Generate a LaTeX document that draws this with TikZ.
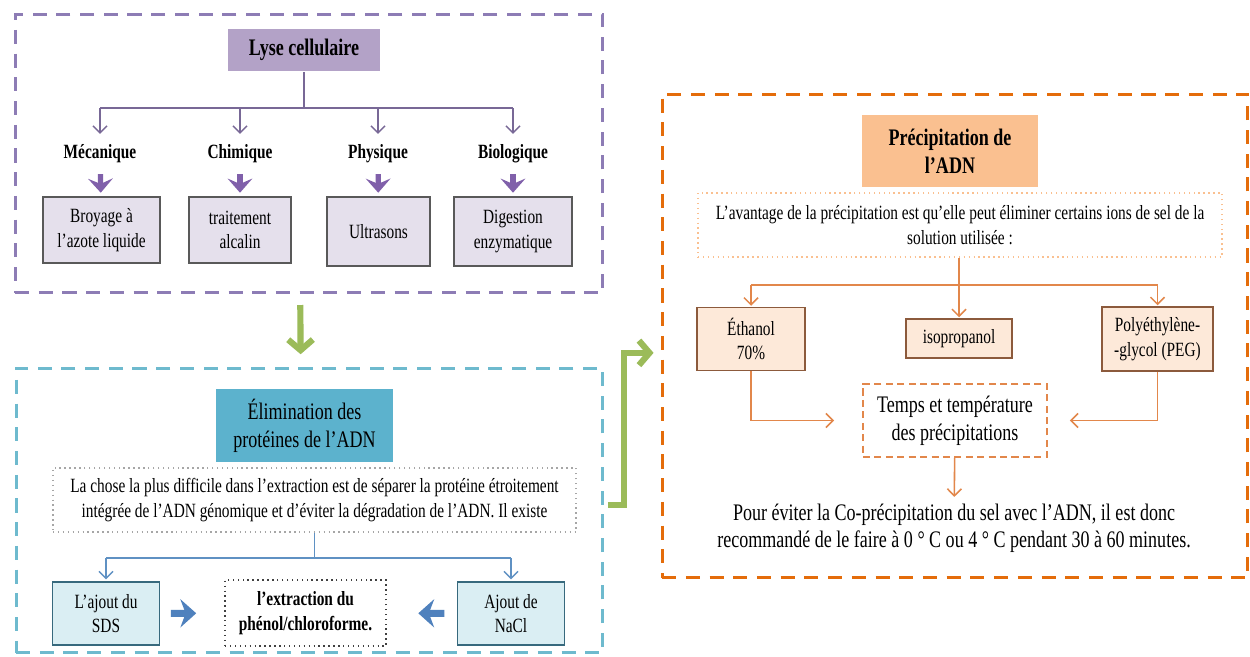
\documentclass[tikz,border=0pt]{standalone}
\usepackage{fontspec}
\setmainfont{Liberation Serif}[FakeStretch=0.76]
\usetikzlibrary{arrows.meta}

\definecolor{lysedash}{RGB}{141,124,181}
\definecolor{lysefill}{RGB}{179,162,199}
\definecolor{methfill}{RGB}{229,224,236}
\definecolor{methline}{RGB}{120,104,150}
\definecolor{chevcol}{RGB}{128,96,170}
\definecolor{elimdash}{RGB}{110,186,206}
\definecolor{elimfill}{RGB}{92,178,205}
\definecolor{sdsfill}{RGB}{218,238,243}
\definecolor{sdsline}{RGB}{55,105,125}
\definecolor{elimline}{RGB}{95,145,195}
\definecolor{bluearrow}{RGB}{79,129,189}
\definecolor{greenarrow}{RGB}{155,187,89}
\definecolor{precdash}{RGB}{228,108,10}
\definecolor{precfill}{RGB}{250,192,144}
\definecolor{agentfill}{RGB}{253,233,217}
\definecolor{agentline}{RGB}{140,90,60}
\definecolor{precline}{RGB}{226,135,75}

\newcommand{\titlesize}{\fontsize{13.5}{16}\selectfont}
\newcommand{\boxsize}{\fontsize{11.5}{14}\selectfont}
\newcommand{\advicesize}{\fontsize{13.5}{15.3}\selectfont}

\begin{document}
\begin{tikzpicture}[x=0.02cm, y=-0.02cm, font=\boxsize,
  >={Straight Barb[length=4pt,width=8pt]},
  panel/.style={draw, line width=1.7pt, dash pattern=on 8pt off 5.5pt},
  box/.style={align=center, inner sep=2pt},
  lysehead/.style={box, fill=lysefill, font=\titlesize\bfseries},
  methodname/.style={box, inner sep=1pt, font=\boxsize\bfseries},
  method/.style={box, draw=black!65, line width=0.9pt, fill=methfill},
  lyseline/.style={color=methline, line width=0.8pt},
  chev/.style={color=chevcol, line width=3pt, -{Stealth[length=8pt,width=14pt,inset=3pt]}, shorten <=5pt, shorten >=2pt},
  elimhead/.style={box, fill=elimfill, font=\titlesize},
  note/.style={box, dotted, line width=0.8pt},
  addbox/.style={box, draw=sdsline, line width=1pt, fill=sdsfill},
  elimln/.style={color=elimline, line width=0.8pt},
  bluearr/.style={color=bluearrow, line width=4pt, -{Stealth[length=9pt,width=16pt,inset=3pt]}},
  greenarr/.style={color=greenarrow, line width=3.5pt, -{Straight Barb[length=6pt,width=14pt]}},
  prechead/.style={box, fill=precfill, font=\titlesize\bfseries},
  agent/.style={box, draw=agentline, line width=1pt, fill=agentfill},
  precln/.style={color=precline, line width=0.9pt}]

\path[use as bounding box, fill=white] (0,0) rectangle (1250,656);

% panels
\node[panel, draw=lysedash, minimum width=11.76cm, minimum height=5.58cm] (lysepanel) at (309,153.5) {};
\node[panel, draw=elimdash, minimum width=11.74cm, minimum height=5.7cm] (elimpanel) at (309.5,510.5) {};
\node[panel, draw=precdash, minimum width=11.72cm, minimum height=9.68cm] (precpanel) at (955,336) {};

% lyse cellulaire
\node[lysehead, minimum width=3.06cm, minimum height=0.86cm] (lyse) at (304,50) {Lyse cellulaire};

\node[methodname] (meca) at (100,154) {Mécanique};
\node[methodname] (chim) at (240,154) {Chimique};
\node[methodname] (phys) at (378,154) {Physique};
\node[methodname] (bio) at (513,154) {Biologique};

\node[method, minimum width=2.34cm, minimum height=1.32cm] (broy) at (101.5,230) {Broyage à\\l'azote liquide};
\node[method, minimum width=2.04cm, minimum height=1.32cm] (trait) at (240,230) {traitement\\alcalin};
\node[method, minimum width=2.06cm, minimum height=1.38cm] (ultra) at (378.5,231.5) {Ultrasons};
\node[method, minimum width=2.36cm, minimum height=1.38cm] (dig) at (513,231.5) {Digestion\\enzymatique};

\coordinate (lysejoin) at (306,108);
\draw[lyseline] (lyse.south) -- (lyse.south |- lysejoin)
  (meca |- lysejoin) -- (bio |- lysejoin);
\path[lyseline, ->, shorten >=5pt]
  (meca |- lysejoin) edge (meca)
  (chim |- lysejoin) edge (chim)
  (phys |- lysejoin) edge (phys)
  (bio |- lysejoin) edge (bio);

\path[chev]
  (meca) edge (broy)
  (chim) edge (trait)
  (phys) edge (ultra)
  (bio) edge (dig);

% elimination des proteines
\node[elimhead, minimum width=3.54cm, minimum height=1.46cm] (elim) at (304.5,425.5) {Élimination des\\protéines de l'ADN};
\node[note, draw=black!35, minimum width=10.46cm, minimum height=1.28cm] (elimtxt) at (314.5,500)
  {La chose la plus difficile dans l'extraction est de séparer la protéine étroitement\\intégrée de l'ADN génomique et d'éviter la dégradation de l'ADN. Il existe};

\node[addbox, minimum width=2.14cm, minimum height=1.26cm] (sds) at (106,613.5) {L'ajout du\\SDS};
\node[note, draw=black!75, font=\boxsize\bfseries, minimum width=3.22cm, minimum height=1.32cm] (extr) at (305.5,613) {l'extraction du\\phénol/chloroforme.};
\node[addbox, minimum width=2.14cm, minimum height=1.26cm] (nacl) at (511,613.5) {Ajout de\\NaCl};

\coordinate (elimjoin) at (315,558);
\draw[elimln] (elimtxt.south) -- (elimtxt.south |- elimjoin)
  (sds |- elimjoin) -- (nacl |- elimjoin);
\path[elimln, ->, shorten >=1pt]
  (sds |- elimjoin) edge (sds)
  (nacl |- elimjoin) edge (nacl);

\path[bluearr]
  (sds) edge[shorten <=6pt, shorten >=16pt] (extr)
  (nacl) edge[shorten <=7pt, shorten >=18pt] (extr);

% green arrows between panels
\path[greenarr] ([xshift=-5pt]lysepanel.south) edge[shorten <=6pt, shorten >=7pt] ([xshift=-5pt]elimpanel.north);
\draw[greenarr] ([xshift=2pt,yshift=3pt]elimpanel.east) -- ++(16,0) |- ([xshift=-4pt,yshift=-9.6pt]precpanel.west);

% precipitation de l'ADN
\node[prechead, minimum width=3.52cm, minimum height=1.44cm] (prec) at (950,151) {Précipitation de\\l'ADN};
\node[note, draw=precfill, minimum width=10.48cm, minimum height=1.28cm] (prectxt) at (960,225)
  {L'avantage de la précipitation est qu'elle peut éliminer certains ions de sel de la\\solution utilisée :};

\node[agent, minimum width=2.16cm, minimum height=1.26cm] (etha) at (751,339) {Éthanol\\70\%};
\node[agent, minimum width=2.12cm, minimum height=0.78cm] (iso) at (959,338.5) {isopropanol};
\node[agent, minimum width=2.22cm, minimum height=1.28cm] (peg) at (1157.5,339) {Polyéthylène-\\-glycol (PEG)};

\node[box, draw=precline, dash pattern=on 4pt off 2.5pt, line width=1pt, font=\titlesize,
  minimum width=3.68cm, minimum height=1.46cm] (temps) at (955,420.5) {Temps et température\\des précipitations};

\node[box, font=\advicesize] (advice) at (954,528.5)
  {Pour éviter la Co-précipitation du sel avec l'ADN, il est donc\\recommandé de le faire à 0 ° C ou 4 ° C pendant 30 à 60 minutes.};

\coordinate (precjoin) at (959,285);
\draw[precln] (etha |- precjoin) -- (peg |- precjoin);
\path[precln, ->, shorten >=0.5pt]
  (prectxt.south -| iso) edge (iso)
  (etha |- precjoin) edge (etha)
  (peg |- precjoin) edge (peg);
\draw[precln, ->, shorten >=16pt] (etha) |- (temps);
\draw[precln, ->, shorten >=12.5pt] (peg) |- (temps);
\path[precln, ->, shorten >=2pt] (temps) edge (advice);

\end{tikzpicture}
\end{document}
